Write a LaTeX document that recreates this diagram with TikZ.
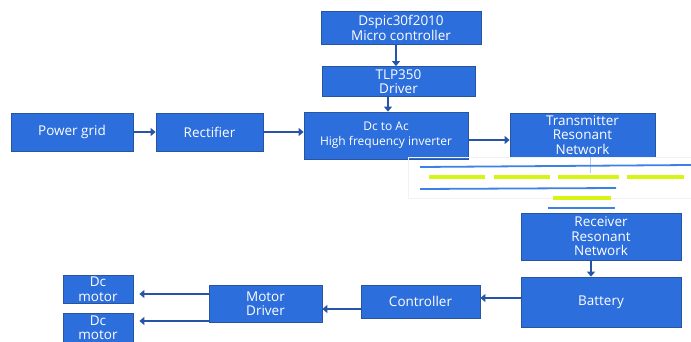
\documentclass[tikz,border=0pt]{standalone}
\usepackage{fontspec}
\setmainfont{Open Sans}
\usetikzlibrary{arrows.meta}
\definecolor{boxfill}{RGB}{44,110,220}
\definecolor{boxedge}{RGB}{40,85,160}
\definecolor{arrowblue}{RGB}{38,84,168}
\definecolor{coilblue}{RGB}{60,130,230}
\definecolor{coilyellow}{RGB}{215,245,20}
\tikzset{
  block/.style={draw=boxedge, line width=0.8pt, fill=boxfill, text=white,
    font=\fontsize{13.5}{14.5}\selectfont, align=center, inner sep=0pt},
  flow/.style={draw=arrowblue, line width=2.8pt,
    -{Triangle[length=5pt,width=8pt]}},
  coil/.style={draw=coilblue, line width=1.8pt},
  core/.style={draw=coilyellow, line width=3.2pt},
}
\begin{document}
\begin{tikzpicture}[x=1pt,y=-1pt]
\useasboundingbox[fill=white] (0,0) rectangle (691,342);

% control chain
\node[block, minimum width=160pt, minimum height=33pt] (dspic) at (401,28) {Dspic30f2010\\Micro controller};
\node[block, minimum width=153pt, minimum height=30pt] (tlp) at (398.5,81.5) {TLP350\\Driver};

% power path
\node[block, minimum width=122pt, minimum height=38pt] (grid) at (72,132) {Power grid};
\node[block, minimum width=107pt, minimum height=38pt] (rect) at (209.5,132) {Rectifier};
\node[block, minimum width=164pt, minimum height=47pt,
  font=\fontsize{12}{15}\selectfont] (inv) at (386,135.5) {Dc to Ac\\High frequency inverter};
\node[block, minimum width=145pt, minimum height=44pt] (tx) at (582.5,135) {Transmitter\\Resonant\\Network};

% receiving side
\node[block, minimum width=160pt, minimum height=47pt] (rx) at (601,236.5) {Receiver\\Resonant\\Network};
\node[block, minimum width=160pt, minimum height=50pt] (batt) at (601,302) {Battery};
\node[block, minimum width=119pt, minimum height=33pt] (ctrl) at (420.5,301.5) {Controller};
\node[block, minimum width=113pt, minimum height=37pt] (drv) at (265.5,303.5) {Motor\\Driver};
\node[block, minimum width=70pt, minimum height=28pt] (m1) at (98,289) {Dc\\motor};
\node[block, minimum width=70pt, minimum height=29pt] (m2) at (98,327.5) {Dc\\motor};

% coupling coils
\draw[black!5, line width=0.4pt] (408,157) rectangle (691,198);
\draw[coilblue!40, line width=0.5pt] (590,157) -- (590,173);
\draw[coil] (420,167) -- (691,165);
\draw[core] (429,177) -- (485,177);
\draw[core] (494,177) -- (550,177);
\draw[core] (558,177) -- (619,177);
\draw[core] (627,177) -- (684,177);
\draw[coil] (420,189) -- (616,188);
\draw[core] (553,198) -- (611,198);
\draw[coil] (548,208) -- (615,208);

% connectors
\draw[flow] ([xshift=-5pt]dspic.south) -- ([xshift=-2.5pt]tlp.north);
\draw[flow] ([xshift=-10.5pt]tlp.south) -- (inv.north -| 388,0);
\draw[flow] (grid.east) -- (rect.west);
\draw[flow] (rect.east) -- (inv.west |- rect.east);
\draw[flow] (inv.east |- 0,140) -- (tx.west |- 0,140);
\draw[flow] ([xshift=-10pt]rx.south) -- ([xshift=-10pt]batt.north);
\draw[flow] (batt.west |- 0,298) -- (ctrl.east |- 0,298);
\draw[flow] (ctrl.west |- 0,309) -- (drv.east |- 0,309);
\draw[flow, shorten >=6pt] (drv.west |- 0,294) -- (m1.east |- 0,294);
\draw[flow, shorten >=6pt] (drv.west |- 0,321) -- (m2.east |- 0,321);
\end{tikzpicture}
\end{document}
